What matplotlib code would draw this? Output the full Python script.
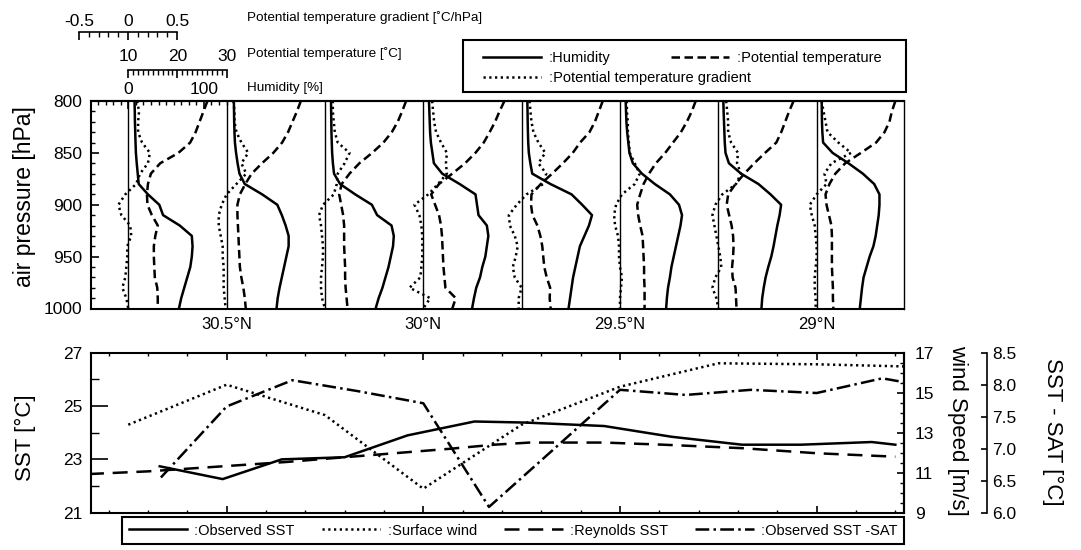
import numpy as np
import matplotlib
matplotlib.use("Agg")
import matplotlib.pyplot as plt
from matplotlib.patches import Rectangle

plt.rcParams['font.family'] = ['Liberation Sans', 'DejaVu Sans']

# ---- vertical profiles (upper panel) ----
levels = [800, 810, 820, 830, 840, 850, 860, 870, 880, 890, 900,
          910, 920, 930, 940, 950, 960, 970, 980, 990, 1000]
station_lat = [30.75, 30.5, 30.25, 30.0, 29.75, 29.5, 29.25, 29.0]

humidity = [
    [8.3, 8.6, 8.8, 9.2, 9.6, 10.1, 11.2, 12.5, 13.8, 26, 41, 46, 68, 84, 85, 84, 82, 78, 74, 70, 67],
    [9.6, 9.8, 10, 10.4, 11, 12.5, 14.5, 17, 24, 47, 67, 73, 78, 82, 82, 79, 76, 73, 70, 67.5, 66],
    [8, 8.2, 8.4, 8.6, 9, 9.5, 10.5, 12, 20, 40, 62, 69, 88, 91, 90, 87, 84, 80, 76, 71, 67],
    [7.5, 8, 8.5, 9, 10, 12, 14, 25, 48, 69, 71, 73, 84, 86, 84, 82, 78, 75, 70, 67, 64.5],
    [7.5, 7.8, 8, 8.3, 8.7, 9.5, 11.5, 14, 38, 66, 80, 93, 89, 83, 77, 74, 71, 68, 66, 64, 62],
    [7.5, 8, 8.5, 9.5, 11, 12.5, 17, 29, 46, 66, 78, 82, 80, 77, 74, 71, 68, 66, 63.5, 62, 61],
    [6.6, 7, 7.5, 8, 8.5, 9.5, 14, 30, 53, 69, 83, 81, 78, 75.5, 73, 70, 66, 62.5, 60, 58, 57],
    [6.6, 6.8, 7, 7.5, 8.5, 21, 42, 61, 76, 83, 83, 82, 80, 78, 75, 70, 66, 62, 60, 58.5, 57],
]

theta = [
    [26.1, 25.3, 24.5, 23.7, 22.6, 20.2, 16.5, 14.6, 14.0, 13.8, 13.9, 14.8, 16.0, 15.5, 15.2, 15.2, 15.3, 15.4, 15.9, 16.0, 16.0],
    [25.1, 24.3, 23.4, 22.5, 21.3, 19.5, 17.2, 15.1, 13.8, 12.7, 12.2, 12.2, 12.3, 12.4, 12.5, 12.6, 12.7, 13.0, 13.4, 13.7, 13.9],
    [26.5, 25.7, 24.8, 23.6, 21.9, 19.6, 17.0, 15.0, 13.4, 12.9, 13.3, 13.7, 13.9, 13.9, 13.9, 14.0, 14.1, 14.1, 14.2, 14.4, 14.6],
    [26.5, 25.5, 24.6, 23.5, 22.3, 20.6, 18.5, 15.9, 13.2, 11.6, 12.4, 13.2, 13.6, 13.8, 13.9, 14.0, 14.1, 14.3, 14.5, 16.6, 15.9],
    [26.5, 25.7, 24.9, 23.8, 21.9, 20.4, 18.4, 16.2, 13.9, 12.0, 11.9, 12.2, 13.2, 13.8, 14.2, 14.4, 14.6, 15.1, 15.8, 15.7, 15.9],
    [25.4, 24.6, 23.6, 22.4, 20.8, 19.2, 17.3, 15.9, 14.8, 14.1, 13.5, 13.7, 14.1, 14.6, 14.7, 14.8, 14.9, 14.9, 15.0, 15.0, 15.0],
    [25.3, 24.4, 23.6, 22.8, 21.8, 19.5, 17.3, 15.3, 13.5, 12.0, 11.7, 12.2, 12.7, 13.0, 13.1, 13.0, 12.8, 12.9, 13.5, 13.6, 13.7],
    [26.0, 25.3, 24.8, 23.8, 22.1, 19.0, 15.8, 13.8, 12.6, 11.8, 12.0, 12.5, 13.0, 13.1, 13.1, 13.1, 13.1, 13.2, 13.3, 13.3, 13.4],
]

theta_grad = [
    [0.09, 0.11, 0.10, 0.10, 0.14, 0.22, 0.20, 0.12, 0.08, -0.03, -0.10, -0.07, 0.02, 0.03, -0.01, -0.01, -0.02, -0.03, -0.06, -0.02, 0.0],
    [0.07, 0.08, 0.08, 0.10, 0.15, 0.22, 0.15, 0.20, 0.10, 0.0, -0.05, -0.08, -0.08, -0.06, -0.04, -0.04, -0.03, -0.03, -0.03, -0.02, -0.01],
    [0.08, 0.08, 0.09, 0.10, 0.13, 0.25, 0.20, 0.13, 0.12, 0.09, -0.02, -0.06, -0.04, -0.03, -0.02, -0.02, -0.03, -0.04, -0.04, -0.03, 0.0],
    [0.09, 0.10, 0.11, 0.13, 0.18, 0.24, 0.23, 0.24, 0.15, 0.05, -0.09, -0.04, -0.02, -0.01, -0.01, -0.01, -0.02, -0.03, -0.14, 0.07, 0.0],
    [0.08, 0.09, 0.10, 0.12, 0.17, 0.24, 0.17, 0.25, 0.22, 0.05, -0.05, -0.13, -0.12, -0.07, -0.04, -0.06, -0.09, -0.07, 0.0, -0.03, -0.03],
    [0.07, 0.07, 0.08, 0.08, 0.09, 0.10, 0.15, 0.20, 0.15, 0.02, -0.04, -0.06, -0.05, -0.02, -0.01, -0.01, 0.0, 0.02, 0.01, 0.0, 0.0],
    [0.08, 0.09, 0.10, 0.10, 0.13, 0.20, 0.19, 0.23, 0.18, 0.04, -0.03, -0.06, -0.04, -0.02, 0.0, 0.02, 0.03, -0.03, -0.06, -0.02, 0.0],
    [0.05, 0.07, 0.09, 0.11, 0.22, 0.35, 0.15, 0.08, 0.10, 0.0, -0.07, -0.05, -0.02, -0.01, 0.0, 0.0, -0.01, -0.02, -0.02, -0.01, -0.01],
]

# ---- surface series (lower panel) ----
obs_sst_lat = [30.67, 30.51, 30.36, 30.20, 30.04, 29.87, 29.74, 29.54, 29.37, 29.19, 29.04, 28.86, 28.80]
obs_sst = [22.74, 22.26, 23.0, 23.08, 23.9, 24.42, 24.38, 24.25, 23.85, 23.55, 23.55, 23.65, 23.55]

reynolds_lat = [30.85, 30.70, 30.50, 30.35, 30.20, 29.93, 29.82, 29.73, 29.54, 29.39, 29.19, 29.00, 28.80]
reynolds_sst = [22.45, 22.55, 22.75, 22.9, 23.08, 23.4, 23.55, 23.63, 23.63, 23.55, 23.42, 23.23, 23.1]

wind_lat = [30.75, 30.5, 30.25, 30.0, 29.75, 29.5, 29.25, 29.0, 28.75]
wind_speed = [13.4, 15.4, 13.88, 10.2, 13.4, 15.3, 16.47, 16.42, 16.3]

diff_lat = [30.667, 30.5, 30.333, 30.167, 30.0, 29.833, 29.667, 29.5, 29.333, 29.167, 29.0, 28.833, 28.77]
sst_minus_sat = [6.55, 7.66, 8.07, 7.9, 7.71, 6.09, 7.0, 7.92, 7.84, 7.92, 7.87, 8.10, 8.03]

lat_ticks = [30.5, 30.0, 29.5, 29.0]
lat_labels = ['30.5°N', '30°N', '29.5°N', '29°N']

# profile offsets: each scale bar spans 0.25 deg of latitude
RH_DEG = 0.25 / 130.0
TH_DEG = 0.25 / 20.0
GR_DEG = 0.25
LAT_LEFT, LAT_RIGHT = 30.846, 28.778
LW = 1.8

W_PX, H_PX = 1081, 550
fig = plt.figure(figsize=(W_PX / 100, H_PX / 100), dpi=100)


def fx(px):
    return px / W_PX


def fy(px):
    return 1 - px / H_PX


ax_left, ax_right = 90.5, 904
ax_top = fig.add_axes([fx(ax_left), fy(308.5), fx(ax_right - ax_left), 207.5 / H_PX])
ax_bot = fig.add_axes([fx(ax_left), fy(512.7), fx(ax_right - ax_left), 160 / H_PX])

dash_theta = (0, (3.4, 1.8))
dot_grad = (0, (0.9, 1.4))

for i, lat0 in enumerate(station_lat):
    ax_top.axvline(lat0, color='black', lw=1.0, zorder=1)
    h_rh, = ax_top.plot(lat0 - np.array(humidity[i]) * RH_DEG, levels,
                        color='black', lw=LW)
    h_th, = ax_top.plot(lat0 - (np.array(theta[i]) - 10) * TH_DEG, levels,
                        color='black', lw=LW, ls=dash_theta)
    h_gr, = ax_top.plot(lat0 - np.array(theta_grad[i]) * GR_DEG, levels,
                        color='black', lw=LW, ls=dot_grad)

ax_top.set_xlim(LAT_LEFT, LAT_RIGHT)
ax_top.set_ylim(1000, 800)
ax_top.set_yticks([800, 850, 900, 950, 1000])
ax_top.set_yticks(np.arange(800, 1001, 10), minor=True)
ax_top.set_xticks(lat_ticks)
ax_top.set_xticklabels(lat_labels)
ax_top.tick_params(axis='x', length=0, pad=6, labelsize=12)
ax_top.tick_params(axis='y', which='major', direction='in', length=6, width=1.2,
                   labelsize=12.5, pad=6)
ax_top.tick_params(axis='y', which='minor', direction='in', length=3, width=1.0)
for s in ['left', 'bottom', 'top']:
    ax_top.spines[s].set_linewidth(1.5)
ax_top.spines['right'].set_linewidth(1.0)
ax_top.set_ylabel('air pressure [hPa]', fontsize=16.5, rotation=90,
                  ha='center', va='center', rotation_mode='default')
ax_top.yaxis.set_label_coords(-0.081, 0.54)

# humidity scale on the top edge of the profile panel
sec = ax_top.secondary_xaxis('top', functions=(lambda x: (30.75 - x) / RH_DEG,
                                               lambda r: 30.75 - r * RH_DEG))
sec.set_xticks([0, 100])
sec.set_xticks(np.arange(-50, 131, 10), minor=True)
sec.tick_params(axis='x', which='major', direction='in', length=6, width=1.2,
                labelsize=12.5, pad=3)
sec.tick_params(axis='x', which='minor', direction='in', length=3, width=1.0)
sec.spines['top'].set_linewidth(1.5)


def scale_bar(x0, x1, y, lim, major, labels, minor, pad):
    ax = fig.add_axes([fx(x0), fy(y), fx(x1 - x0), 0.0001])
    ax.set_xlim(*lim)
    ax.set_ylim(0, 1)
    for s in ['bottom', 'left', 'right']:
        ax.spines[s].set_visible(False)
    ax.spines['top'].set_linewidth(1.2)
    ax.patch.set_visible(False)
    ax.set_yticks([])
    ax.xaxis.tick_top()
    ax.set_xticks(major)
    ax.set_xticklabels(labels)
    ax.set_xticks(minor, minor=True)
    ax.tick_params(axis='x', which='major', direction='in', length=6, width=1.2,
                   labelsize=12.5, pad=pad)
    ax.tick_params(axis='x', which='minor', direction='in', length=3.5, width=1.0)
    return ax


scale_bar(79, 177, 31.7, (-0.5, 0.5), [-0.5, 0, 0.5], ['-0.5', '0', '0.5'],
          np.arange(-0.5, 0.51, 0.1), pad=2)
scale_bar(128.2, 226.5, 70, (10, 30), [10, 20, 30], ['10', '20', '30'],
          np.arange(10, 31, 1), pad=4)

fig.text(fx(247), fy(18), 'Potential temperature gradient [˚C/hPa]', fontsize=9.7, va='center')
fig.text(fx(247), fy(54), 'Potential temperature [˚C]', fontsize=9.7, va='center')
fig.text(fx(247), fy(88), 'Humidity [%]', fontsize=9.7, va='center')

# legend box for the profiles
fig.add_artist(Rectangle((fx(463), fy(92)), fx(906 - 463), 52 / H_PX,
                         transform=fig.transFigure, fill=False, ec='black', lw=1.5))
leg_kw = dict(loc='upper left', frameon=False, borderpad=0, borderaxespad=0,
              handlelength=4.0, handletextpad=0.5, labelspacing=0.4, fontsize=10.5)
fig.legend([h_rh, h_gr], ['ːHumidity', 'ːPotential temperature gradient'],
           bbox_to_anchor=(fx(483), fy(51)), **leg_kw)
fig.legend([h_th], ['ːPotential temperature'],
           bbox_to_anchor=(fx(671), fy(51)), **leg_kw)

# ---- lower panel ----
ln_obs, = ax_bot.plot(obs_sst_lat, obs_sst, color='black', lw=LW)
ln_rey, = ax_bot.plot(reynolds_lat, reynolds_sst, color='black', lw=LW, ls=(0, (6, 3.5)))
ax_bot.set_xlim(LAT_LEFT, LAT_RIGHT)
ax_bot.set_ylim(21, 27)
ax_bot.set_yticks([21, 23, 25, 27])
ax_bot.set_yticks([22, 24, 26], minor=True)
ax_bot.set_xticks(lat_ticks)
ax_bot.set_xticks(np.arange(28.8, 30.85, 0.1), minor=True)
ax_bot.tick_params(axis='x', which='both', direction='in', top=True, bottom=True,
                   labelbottom=False)
ax_bot.tick_params(axis='x', which='major', length=5, width=1.2)
ax_bot.tick_params(axis='x', which='minor', length=2.5, width=1.0)
ax_bot.tick_params(axis='y', which='major', direction='in', length=12, width=1.2,
                   labelsize=12.5, pad=6)
ax_bot.tick_params(axis='y', which='minor', direction='in', length=6, width=1.0)
for s in ax_bot.spines.values():
    s.set_linewidth(1.5)
ax_bot.set_ylabel('SST [°C]', fontsize=16, rotation=90,
                  ha='center', va='center', rotation_mode='default')
ax_bot.yaxis.set_label_coords(-0.0805, 0.47)

ax_wind = ax_bot.twinx()
ln_wind, = ax_wind.plot(wind_lat, wind_speed, color='black', lw=LW, ls=(0, (0.9, 1.4)))
ax_wind.set_ylim(9, 17)
ax_wind.set_yticks([9, 11, 13, 15, 17])
ax_wind.set_yticks(np.arange(9, 17.01, 0.5), minor=True)
ax_wind.tick_params(axis='y', which='major', direction='in', length=5, width=1.2,
                    labelsize=12.5, pad=8)
ax_wind.tick_params(axis='y', which='minor', direction='in', length=3, width=1.0)
for s in ['top', 'bottom', 'left']:
    ax_wind.spines[s].set_visible(False)
ax_wind.spines['right'].set_linewidth(1.5)
ax_wind.set_ylabel('wind Speed [m/s]', fontsize=16, rotation=270,
                   ha='center', va='center', rotation_mode='default')
ax_wind.yaxis.set_label_coords(1.0664, 0.517)

ax_diff = ax_bot.twinx()
ln_diff, = ax_diff.plot(diff_lat, sst_minus_sat, color='black', lw=LW,
                        ls=(0, (5.5, 1.7, 1.0, 1.7)))
ax_diff.spines['right'].set_position(('axes', 1.102))
for s in ['top', 'bottom', 'left']:
    ax_diff.spines[s].set_visible(False)
ax_diff.spines['right'].set_linewidth(1.2)
ax_diff.set_ylim(6.0, 8.5)
ax_diff.set_yticks(np.arange(6.0, 8.51, 0.5))
ax_diff.set_yticklabels([f'{v:.1f}' for v in np.arange(6.0, 8.51, 0.5)])
ax_diff.tick_params(axis='y', direction='in', length=4, width=1.2, labelsize=12.5, pad=4)
ax_diff.set_ylabel('SST - SAT [°C]', fontsize=16, rotation=270,
                   ha='center', va='center', rotation_mode='default')
ax_diff.yaxis.set_label_coords(1.1832, 0.504)

leg = fig.legend([ln_obs, ln_wind, ln_rey, ln_diff],
                 ['ːObserved SST', 'ːSurface wind', 'ːReynolds SST', 'ːObserved SST -SAT'],
                 loc='upper left', ncol=4, mode='expand',
                 bbox_to_anchor=(fx(122), fy(548), fx(904 - 122), 31 / H_PX),
                 borderaxespad=0, borderpad=0.45, handlelength=4.0, handletextpad=0.5,
                 columnspacing=1.5, fontsize=10.5, fancybox=False, framealpha=1)
leg.get_frame().set_edgecolor('black')
leg.get_frame().set_linewidth(1.5)

fig.savefig('out.png', dpi=100)
